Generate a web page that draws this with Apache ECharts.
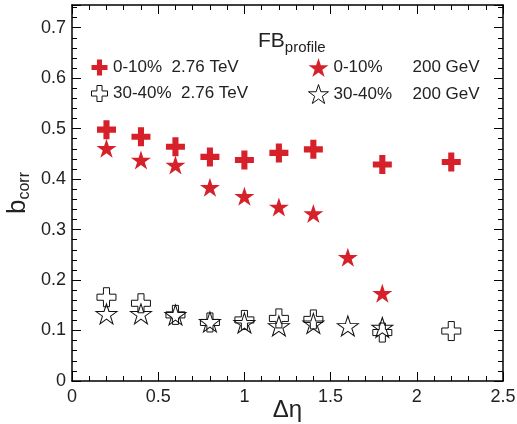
<!DOCTYPE html>
<html>
<head>
<meta charset="utf-8">
<script src="https://cdn.jsdelivr.net/npm/echarts@6/dist/echarts.min.js"></script>
<style>
  html, body { margin: 0; padding: 0; background: #fff; }
  #chart { width: 517px; height: 424px; }
</style>
</head>
<body>
<div id="chart"></div>
<script>
  // delta eta positions
  var etaLHC = [0.2, 0.4, 0.6, 0.8, 1.0, 1.2, 1.4, 1.8, 2.2]
  var etaRHIC = [0.2, 0.4, 0.6, 0.8, 1.0, 1.2, 1.4, 1.6, 1.8]
  // b_corr values
  var central276 = [0.498, 0.484, 0.464, 0.444, 0.438, 0.452, 0.459, 0.429, 0.434]
  var central200 = [0.461, 0.438, 0.428, 0.384, 0.366, 0.345, 0.332, 0.245, 0.174]
  var periph276 = [0.166, 0.154, 0.131, 0.116, 0.121, 0.124, 0.122, 0.096, 0.099]
  var periph200 = [0.133, 0.133, 0.131, 0.117, 0.115, 0.109, 0.114, 0.109, 0.106]

  var font = 'Liberation Sans, Arial, sans-serif'
  var red = '#d6202a'
  var cross = 'path://M3.4,0 H6.6 V3.4 H10 V6.6 H6.6 V10 H3.4 V6.6 H0 V3.4 H3.4 Z'
  var star = 'path://M50,0 L61.23,34.55 L97.55,34.55 L68.17,55.9 L79.39,90.45 L50,69.1 L20.61,90.45 L31.83,55.9 L2.45,34.55 L38.77,34.55 Z'

  function pairs (xs, ys) {
    return xs.map(function (x, i) { return [x, ys[i]] })
  }

  function mirrorAxis (pos, min, max, interval) {
    return {
      type: 'value', position: pos, min: min, max: max, interval: interval,
      axisLine: { show: true, onZero: false, lineStyle: { color: '#000', width: 1.5 } },
      axisTick: { show: true, inside: true, length: 9, lineStyle: { color: '#000' } },
      minorTick: { show: true, splitNumber: 5, length: 5, lineStyle: { color: '#000' } },
      axisLabel: { show: false },
      splitLine: { show: false }
    }
  }

  var chart = echarts.init(document.getElementById('chart'))
  var option = {
    animation: false,
    backgroundColor: '#fff',
    textStyle: { fontFamily: font },
    grid: { left: 72, right: 14, top: 5, bottom: 43, outerBoundsMode: 'none', containLabel: false },
    title: {
      text: '{a|FB}{b|profile}',
      left: 253, top: 23,
      textStyle: {
        rich: {
          a: { fontSize: 21, fontWeight: 'normal', fontFamily: font, color: '#222' },
          b: { fontSize: 15, fontWeight: 'normal', fontFamily: font, color: '#222', padding: [12, 0, 0, 0] }
        }
      }
    },
    legend: [
      {
        left: 86, top: 54, orient: 'vertical', itemGap: 9,
        itemWidth: 17, itemHeight: 16,
        data: ['0-10%  2.76 TeV', '30-40%  2.76 TeV'],
        itemStyle: { borderWidth: 1 },
        textStyle: { fontSize: 17, color: '#222', fontFamily: font }
      },
      {
        left: 303, top: 53, orient: 'vertical', itemGap: 7,
        itemWidth: 20, itemHeight: 19,
        data: ['0-10% 200 GeV', '30-40% 200 GeV'],
        itemStyle: { borderWidth: 1 },
        formatter: function (name) {
          var p = name.split(' ')
          return '{c|' + p[0] + '}{d|' + p[1] + ' ' + p[2] + '}'
        },
        textStyle: {
          fontSize: 17, color: '#222', fontFamily: font,
          rich: {
            c: { fontSize: 17, width: 79, fontFamily: font, color: '#222' },
            d: { fontSize: 17, fontFamily: font, color: '#222' }
          }
        }
      }
    ],
    xAxis: [
      {
        type: 'value', min: 0, max: 2.5, interval: 0.5, position: 'bottom',
        name: 'Δη', nameLocation: 'middle', nameGap: 17, nameMoveOverlap: false,
        nameTextStyle: { fontSize: 24, color: '#222', fontFamily: font },
        axisLine: { show: true, onZero: false, lineStyle: { color: '#000', width: 1.5 } },
        axisTick: { show: true, inside: true, length: 9, lineStyle: { color: '#000' } },
        minorTick: { show: true, splitNumber: 5, length: 5, lineStyle: { color: '#000' } },
        axisLabel: { fontSize: 18, color: '#222', margin: 7, fontFamily: font },
        splitLine: { show: false }
      },
      mirrorAxis('top', 0, 2.5, 0.5)
    ],
    yAxis: [
      {
        type: 'value', min: 0, max: 0.745, interval: 0.1, position: 'left',
        name: '{b|b}{s|corr}', nameLocation: 'middle', nameGap: 39, nameMoveOverlap: false,
        nameTextStyle: {
          rich: {
            b: { fontSize: 26, fontFamily: font, color: '#222' },
            s: { fontSize: 16, fontFamily: font, color: '#222', padding: [14, 0, 0, 0] }
          }
        },
        axisLine: { show: true, onZero: false, lineStyle: { color: '#000', width: 1.5 } },
        axisTick: { show: true, inside: true, length: 9, lineStyle: { color: '#000' } },
        minorTick: { show: true, splitNumber: 5, length: 5, lineStyle: { color: '#000' } },
        axisLabel: { fontSize: 18, color: '#222', margin: 6, showMaxLabel: false, fontFamily: font },
        splitLine: { show: false }
      },
      mirrorAxis('right', 0, 0.745, 0.1)
    ],
    series: [
      {
        name: '0-10%  2.76 TeV', type: 'scatter', symbol: cross, symbolSize: 19,
        itemStyle: { color: red, opacity: 1 },
        data: pairs(etaLHC, central276)
      },
      {
        name: '0-10% 200 GeV', type: 'scatter', symbol: star, symbolSize: [20, 19],
        itemStyle: { color: red, opacity: 1 },
        data: pairs(etaRHIC, central200)
      },
      {
        name: '30-40%  2.76 TeV', type: 'scatter', symbol: cross, symbolSize: 19,
        itemStyle: { color: 'rgba(0,0,0,0)', borderColor: '#111', borderWidth: 1, opacity: 1 },
        data: pairs(etaLHC, periph276)
      },
      {
        name: '30-40% 200 GeV', type: 'scatter', symbol: star, symbolSize: [21, 20],
        itemStyle: { color: 'rgba(0,0,0,0)', borderColor: '#111', borderWidth: 1, opacity: 1 },
        data: pairs(etaRHIC, periph200)
      }
    ]
  }
  chart.setOption(option)
</script>
</body>
</html>
